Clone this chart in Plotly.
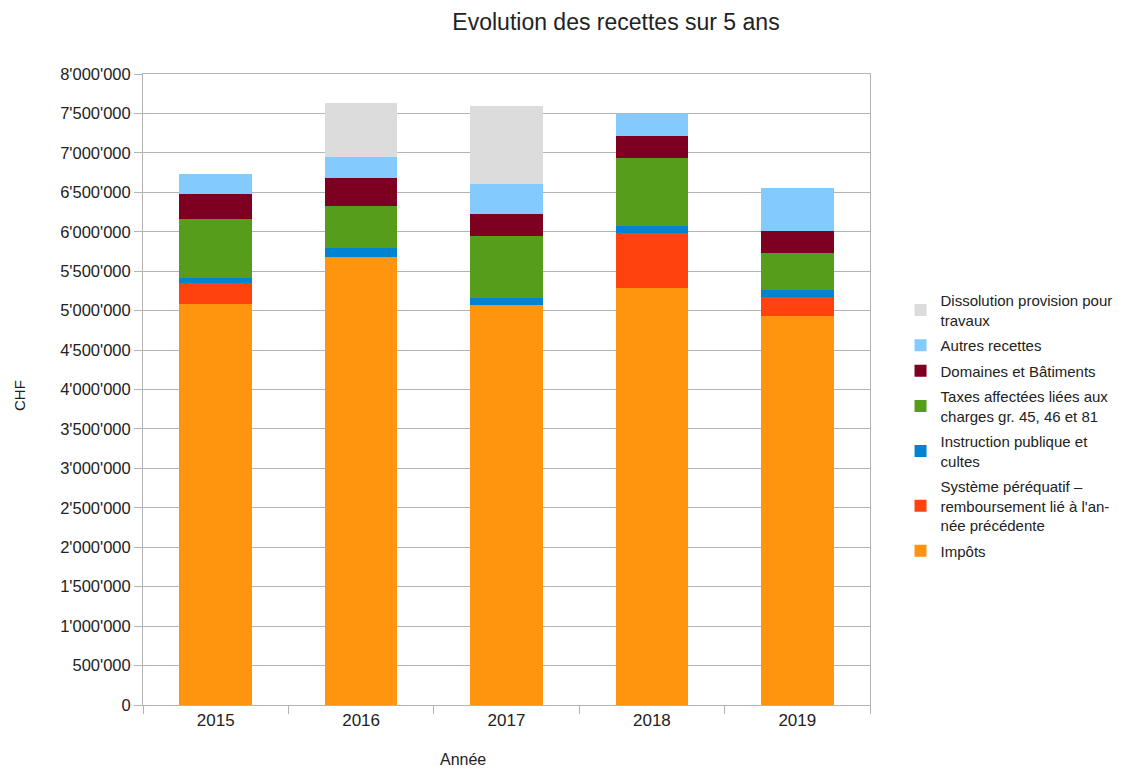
import plotly.graph_objects as go

annees = ["2015", "2016", "2017", "2018", "2019"]

impots = [5082000, 5682000, 5070000, 5281000, 4934000]
systeme_perequatif = [271000, 0, 0, 697000, 233000]
instruction_publique = [63000, 106000, 92000, 93000, 93000]
taxes_affectees = [740000, 536000, 782000, 866000, 473000]
domaines_batiments = [329000, 359000, 275000, 275000, 279000]
autres_recettes = [241000, 267000, 381000, 275000, 537000]
dissolution_provision = [0, 688000, 996000, 0, 0]

series = [
    ("Impôts", impots, "#ff950e"),
    ("Système péréquatif –<br>remboursement lié à l'an-<br>née précédente",
     systeme_perequatif, "#ff420e"),
    ("Instruction publique et<br>cultes", instruction_publique, "#0084d1"),
    ("Taxes affectées liées aux<br>charges gr. 45, 46 et 81",
     taxes_affectees, "#579d1c"),
    ("Domaines et Bâtiments", domaines_batiments, "#7e0021"),
    ("Autres recettes", autres_recettes, "#83caff"),
    ("Dissolution provision pour<br>travaux", dissolution_provision, "#dcdcdc"),
]

fig = go.Figure()
for i, (name, values, color) in enumerate(series):
    fig.add_trace(
        go.Bar(x=annees, y=values, name=name, marker_color=color,
               marker_line_width=0, legendgroup=f"g{i}",
               legendrank=len(series) - i)
    )

# la page ajoute 8 px de marge autour de la figure
W, H = 1138, 771
grid = "#b3b3b3"
fig.update_layout(
    width=W,
    height=H,
    barmode="stack",
    bargap=0.5,
    separators=".'",
    paper_bgcolor="white",
    plot_bgcolor="white",
    font=dict(family="Liberation Sans, Arial, sans-serif", size=16, color="#222"),
    margin=dict(l=135, r=276, t=66, b=74),
    title=dict(
        text="Evolution des recettes sur 5 ans",
        x=(616 - 8) / W, xanchor="center", xref="container",
        y=1 - (22 - 8) / H, yanchor="middle", yref="container",
        font=dict(size=23, color="#222"),
    ),
    legend=dict(
        traceorder="grouped",
        tracegroupgap=3,
        x=1.042, xanchor="left",
        y=(705 - 284) / 631, yanchor="top",
        font=dict(size=15, color="#222"),
        bgcolor="rgba(0,0,0,0)",
    ),
    showlegend=True,
)
fig.update_xaxes(
    showline=True, linecolor=grid, mirror=True,
    ticks="outside", tickson="boundaries", ticklen=8, tickcolor=grid,
    showgrid=False, tickfont=dict(size=17),
)
fig.update_yaxes(
    range=[0, 8000000], dtick=500000, tickformat=",d",
    showline=True, linecolor=grid, mirror=True,
    ticks="outside", ticklen=8, tickcolor=grid,
    gridcolor=grid, gridwidth=1, zeroline=False,
    tickfont=dict(size=16.5),
)
fig.add_annotation(
    text="Année", xref="paper", yref="paper",
    x=(463 - 143) / 727, y=-(770 - 705) / 631,
    showarrow=False, font=dict(size=16),
)
fig.add_annotation(
    text="CHF", xref="paper", yref="paper",
    x=-(143 - 20) / 727, y=(705 - 396) / 631,
    xanchor="center", yanchor="middle",
    textangle=-90, showarrow=False, font=dict(size=15),
)

fig.write_html("out.html")
